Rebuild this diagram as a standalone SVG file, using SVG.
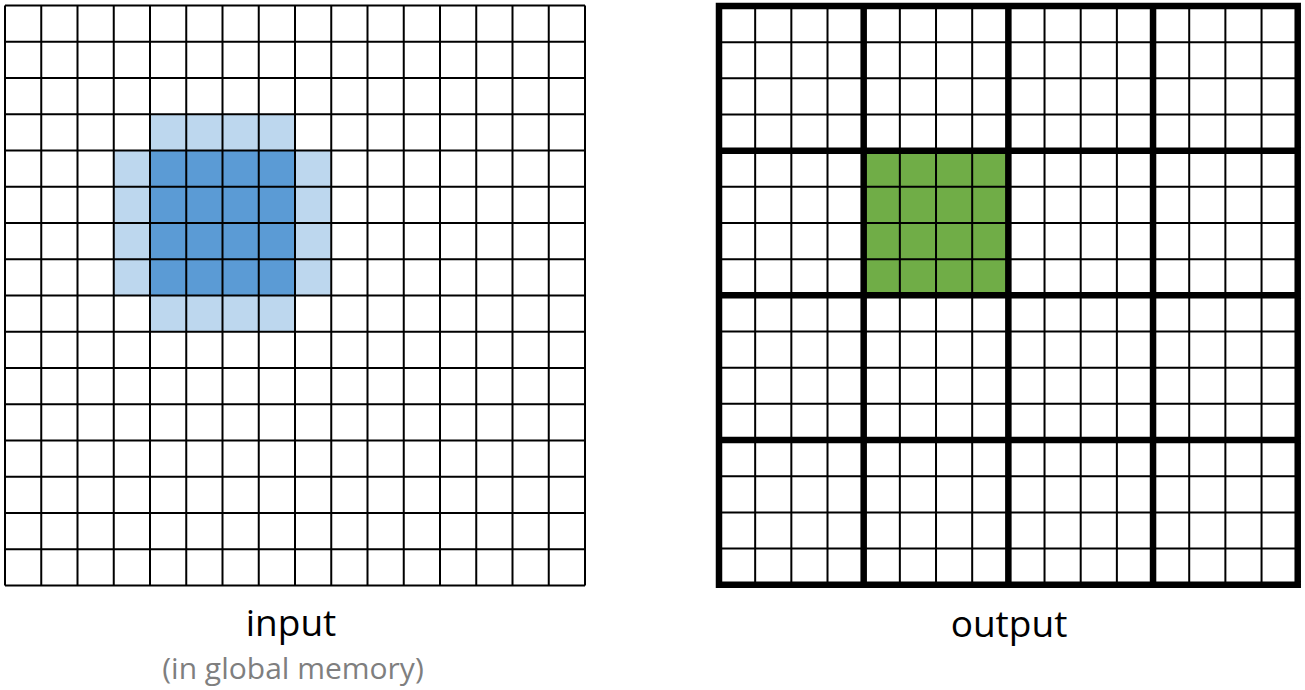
<svg xmlns="http://www.w3.org/2000/svg" width="1305" height="690" viewBox="0 0 1305 690">
<style>
.thin{fill:none;stroke:#000;stroke-width:2}
.thick{fill:none;stroke:#000;stroke-width:6.5;stroke-linecap:square}
.dark{fill:#5B9BD5}
.light{fill:#BDD7EE}
.green{fill:#70AD47}
.lbl{font-family:"Open Sans","Noto Sans",sans-serif;fill:#000;text-anchor:middle}
.sub{font-family:"Open Sans","Noto Sans",sans-serif;fill:#7F7F7F;text-anchor:middle}
</style>
<rect width="1305" height="690" fill="#fff"/>
<g id="input-grid">
<rect class="light" x="150" y="114.25" width="145" height="36.25"/>
<rect class="light" x="150" y="295.5" width="145" height="36.25"/>
<rect class="light" x="113.75" y="150.5" width="36.25" height="145"/>
<rect class="light" x="295" y="150.5" width="36.25" height="145"/>
<rect class="dark" x="150" y="150.5" width="145" height="145"/>
<path class="thin" d="M5 5.5V585.5M41.25 5.5V585.5M77.5 5.5V585.5M113.75 5.5V585.5M150 5.5V585.5M186.25 5.5V585.5M222.5 5.5V585.5M258.75 5.5V585.5M295 5.5V585.5M331.25 5.5V585.5M367.5 5.5V585.5M403.75 5.5V585.5M440 5.5V585.5M476.25 5.5V585.5M512.5 5.5V585.5M548.75 5.5V585.5M585 5.5V585.5
M5 5.5H585M5 41.75H585M5 78H585M5 114.25H585M5 150.5H585M5 186.75H585M5 223H585M5 259.25H585M5 295.5H585M5 331.75H585M5 368H585M5 404.25H585M5 440.5H585M5 476.75H585M5 513H585M5 549.25H585M5 585.5H585"/>
</g>
<g id="output-grid">
<rect class="green" x="863.68" y="150.68" width="144.68" height="144.68"/>
<path class="thin" d="M755.17 6V584.72M791.34 6V584.72M827.51 6V584.72M899.85 6V584.72M936.02 6V584.72M972.19 6V584.72M1044.53 6V584.72M1080.7 6V584.72M1116.87 6V584.72M1189.21 6V584.72M1225.38 6V584.72M1261.55 6V584.72
M719 42.17H1297.72M719 78.34H1297.72M719 114.51H1297.72M719 186.85H1297.72M719 223.02H1297.72M719 259.19H1297.72M719 331.53H1297.72M719 367.7H1297.72M719 403.87H1297.72M719 476.21H1297.72M719 512.38H1297.72M719 548.55H1297.72"/>
<path class="thick" d="M719 6H1297.72V584.72H719Z M863.68 6V584.72M1008.36 6V584.72M1153.04 6V584.72M719 150.68H1297.72M719 295.36H1297.72M719 440.04H1297.72"/>
</g>
<g id="labels">
<text class="lbl" x="291" y="636" font-size="37">input</text>
<text class="sub" x="293" y="679" font-size="30">(in global memory)</text>
<text class="lbl" x="1009" y="637" font-size="37">output</text>
</g>
</svg>
